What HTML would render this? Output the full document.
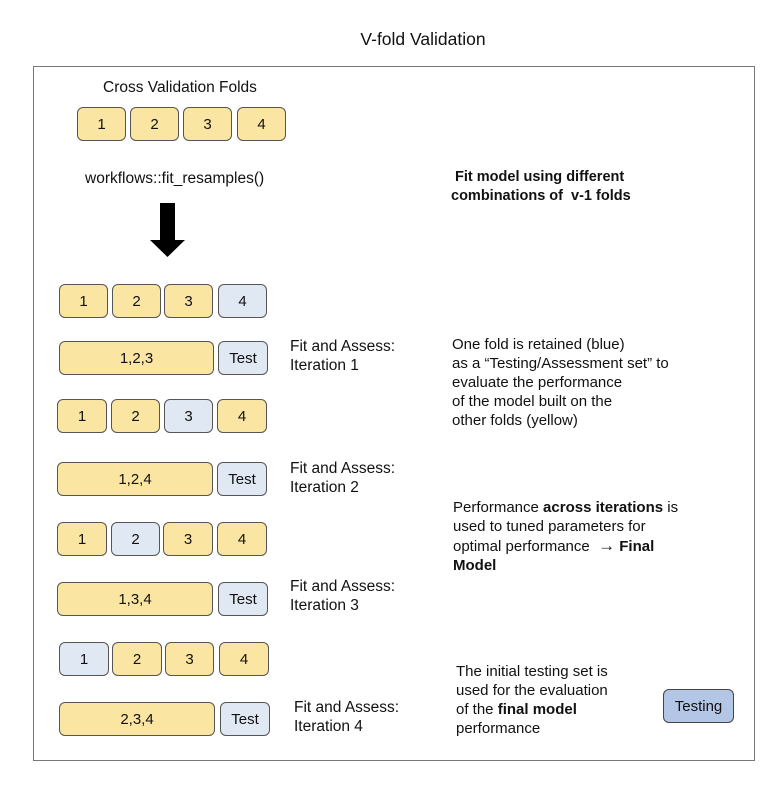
<!DOCTYPE html>
<html><head><meta charset="utf-8">
<style>
body{margin:0;width:778px;height:788px;background:#fff;font-family:"Liberation Sans",sans-serif;color:#111;position:relative;overflow:hidden}
.a{position:absolute}
.b{position:absolute;box-sizing:border-box;border:1.3px solid #555;border-radius:6px;background:#fbe5a3;display:flex;align-items:center;justify-content:center;font-size:15px}
.bl{background:#dfe8f3}
.t{position:absolute;font-size:15.5px;line-height:19px;white-space:nowrap}
.n{font-size:15px}
</style></head><body>
<div class="a" style="left:0;width:846px;top:29px;text-align:center;font-size:17.5px">V-fold Validation</div>
<div class="a" style="left:33px;top:66px;width:722px;height:695px;box-sizing:border-box;border:1.5px solid #777"></div>
<div class="t" style="left:103px;top:78px">Cross Validation Folds</div>
<div class="t" style="left:85px;top:169px">workflows::fit_resamples()</div>
<svg class="a" style="left:145px;top:200px" width="45" height="60"><path d="M15 3H30V40H40L22.5 57L5 40H15Z" fill="#000"/></svg>
<div id="boxes"></div>
<div class="t" style="left:290px;top:337px">Fit and Assess:<br>Iteration 1</div>
<div class="t" style="left:290px;top:459px">Fit and Assess:<br>Iteration 2</div>
<div class="t" style="left:290px;top:577px">Fit and Assess:<br>Iteration 3</div>
<div class="t" style="left:294px;top:698px">Fit and Assess:<br>Iteration 4</div>
<div class="t n" style="left:451px;top:168px;font-weight:bold;font-size:14.5px">&nbsp;Fit model using different<br>combinations of &nbsp;v-1 folds</div>
<div class="t n" style="left:452px;top:335px">One fold is retained (blue)<br>as a “Testing/Assessment set” to<br>evaluate the performance<br>of the model built on the<br>other folds (yellow)</div>
<div class="t n" style="left:453px;top:498px">Performance <b>across iterations</b> is<br>used to tuned parameters for<br>optimal performance &nbsp;<b style="font-size:17px">→</b> <b>Final</b><br><b>Model</b></div>
<div class="t n" style="left:456px;top:662px">The initial testing set is<br>used for the evaluation<br>of the <b>final model</b><br>performance</div>
<div class="b" style="left:663px;top:689px;width:71px;height:34px;background:#b4c6e6;border-color:#444">Testing</div>
<script>
var rows=[
[107,[[77,126,'1',0],[130,179,'2',0],[183,232,'3',0],[237,286,'4',0]]],
[284,[[59,108,'1',0],[112,161,'2',0],[164,213,'3',0],[218,267,'4',1]]],
[341,[[59,214,'1,2,3',0],[218,268,'Test',1]]],
[399,[[57,107,'1',0],[111,160,'2',0],[164,213,'3',1],[217,267,'4',0]]],
[462,[[57,213,'1,2,4',0],[217,267,'Test',1]]],
[522,[[57,107,'1',0],[111,160,'2',1],[163,213,'3',0],[217,267,'4',0]]],
[582,[[57,213,'1,3,4',0],[218,268,'Test',1]]],
[642,[[59,109,'1',1],[112,162,'2',0],[165,214,'3',0],[219,269,'4',0]]],
[702,[[59,215,'2,3,4',0],[220,270,'Test',1]]]];
var c=document.getElementById('boxes');
rows.forEach(function(r,i){r[1].forEach(function(b){
var d=document.createElement('div');
d.className='b'+(b[3]?' bl':'');
d.style.left=b[0]+'px';d.style.top=r[0]+'px';d.style.width=(b[1]-b[0])+'px';d.style.height='34px';
d.textContent=b[2];


c.appendChild(d);});});
</script>
</body></html>
